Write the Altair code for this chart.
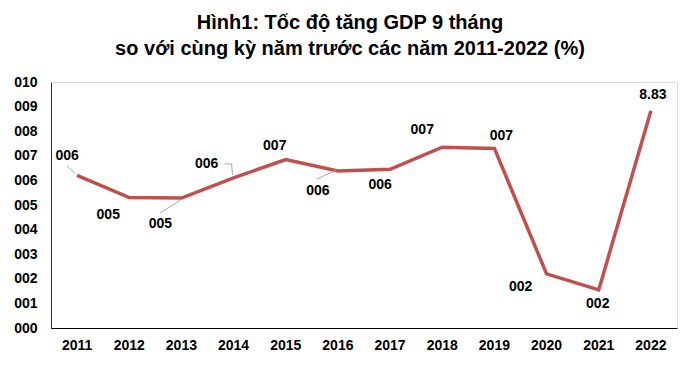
import altair as alt
import pandas as pd

YEARS = ["2011", "2012", "2013", "2014", "2015", "2016", "2017", "2018", "2019", "2020", "2021", "2022"]
VALUES = [6.2, 5.3, 5.28, 6.1, 6.85, 6.38, 6.45, 7.35, 7.3, 2.2, 1.55, 8.83]
LABELS = ["006", "005", "005", "006", "007", "006", "006", "007", "007", "002", "002", "8.83"]
Y_TICKS = [0, 1, 2, 3, 4, 5, 6, 7, 8, 9, 10]

# label placement offsets (styling), pixels relative to the point
LABEL_DX = [-10, -21, -21, -27, -11, -20, -10, -20, 7, -26, -1, 2]
LABEL_DY = [-19, 17, 26, -14, -13, 20, 16, -17, -12, 13, 14, -16]
# leader lines: (year index, x0, y0, x1, y1) offsets in pixels relative to the point
LEADERS = [
    (0, -10, -9.5, -2, -2),
    (2, -21.5, 15, -1, 2),
    (3, -9, -14, -2, -14),
    (3, -2, -14, -1, -3),
    (5, -21, 8, -2, -1),
]

df = pd.DataFrame({"year": YEARS, "value": VALUES, "label": LABELS})

FONT = "Liberation Sans"

x = alt.X("year:O", scale=alt.Scale(paddingInner=0, paddingOuter=0), sort=YEARS,
          axis=alt.Axis(title=None, labelAngle=0, labelFontSize=14, labelFontWeight="bold",
                        labelFont=FONT, labelColor="#000000", labelPadding=10, ticks=False,
                        domainColor="#000000", domainWidth=1, labelOverlap=False))
y = alt.Y("value:Q", scale=alt.Scale(domain=[0, 10], nice=False),
          axis=alt.Axis(title=None, values=Y_TICKS, format="03d",
                        labelFontSize=14, labelFontWeight="bold", labelFont=FONT, labelColor="#000000",
                        labelPadding=14, ticks=False, grid=False, domainColor="#1F2F55", domainWidth=1,
                        labelOverlap=False))

base = alt.Chart(df)
line = base.mark_line(color="#C0504D", strokeWidth=3.5).encode(x=x, y=y)

layers = [line]
for i, yr in enumerate(YEARS):
    t = base.transform_filter(alt.datum.year == yr).mark_text(
        font=FONT, fontSize=14, fontWeight="bold", color="#000000",
        align="center", baseline="middle", dx=LABEL_DX[i], dy=LABEL_DY[i]
    ).encode(x=x, y=y, text="label:N")
    layers.append(t)

for (i, x0, y0, x1, y1) in LEADERS:
    r = base.transform_filter(alt.datum.year == YEARS[i]).mark_rule(
        color="#A6A6A6", strokeWidth=1, xOffset=x0, yOffset=y0, x2Offset=x1, y2Offset=y1
    ).encode(x=x, y=y, x2=alt.X2("year"), y2=alt.Y2("value"))
    layers.append(r)

chart = alt.layer(*layers).properties(
    width=626, height=246,
    title=alt.TitleParams(
        ["Hình1: Tốc độ tăng GDP 9 tháng", "so với cùng kỳ năm trước các năm 2011-2022 (%)"],
        font=FONT, fontSize=20, fontWeight="bold", color="#000000",
        anchor="middle", dx=-14, offset=16, lineHeight=26),
    autosize=alt.AutoSizeParams(type="none"),
    padding={"left": 43, "top": 74, "right": 14, "bottom": 32},
).configure_view(stroke=None).configure(background="#ffffff").configure_axis(
    labelOverlap=False, labelBound=False, labelFlush=False)

chart.save("out.html", embed_options={"renderer": "svg", "actions": False})
